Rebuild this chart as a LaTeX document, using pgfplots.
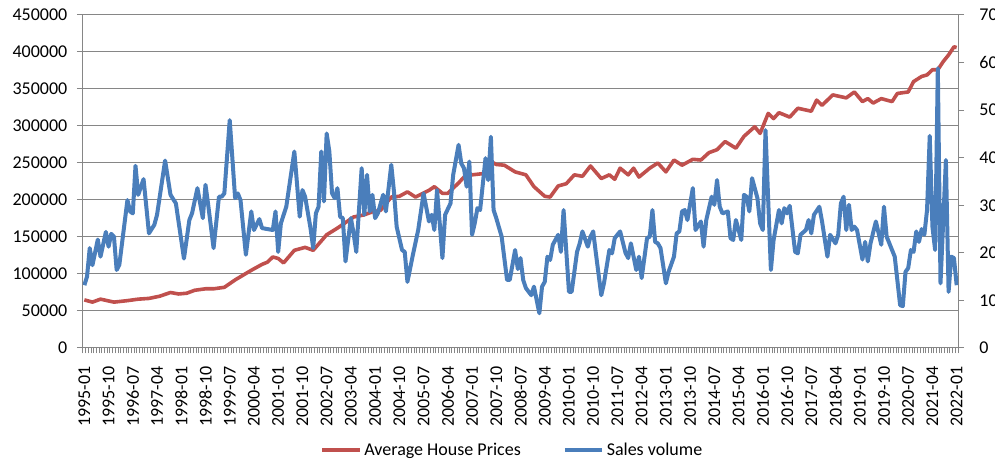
\documentclass[border=0pt]{standalone}
\usepackage{fontspec}
\setmainfont{Carlito}
\usepackage{pgfplots}
\pgfplotsset{compat=1.18}
\usepackage{pgfplotstable}
\definecolor{exred}{RGB}{192,80,77}
\definecolor{exblue}{RGB}{74,126,187}
\definecolor{exgrid}{RGB}{134,134,134}

\pgfplotstableread{
m v
0 65000
3 62000
6 66000
11 62000
16 64000
20 66000
24 67000
28 70000
32 75000
35 73000
38 74000
41 78000
45 80000
48 80000
52 82000
56 92000
62 105000
66 113000
68 116000
70 123000
72 121000
74 115000
78 132000
82 136000
85 132000
90 153000
94 162000
100 177000
104 180000
107 184000
110 186000
114 204000
117 205000
120 211000
123 204000
128 213000
130 218000
133 209000
135 209000
139 223000
141 231000
144 234000
149 236000
151 252000
153 248000
156 247000
160 238000
164 234000
167 218000
171 205000
173 204000
176 219000
179 222000
182 234000
185 232000
188 246000
192 229000
195 234000
197 228000
199 243000
202 234000
204 243000
206 231000
210 243000
213 250000
216 238000
219 254000
222 247000
226 255000
229 254000
232 264000
235 268000
238 279000
242 270000
245 286000
249 299000
251 290000
254 317000
256 310000
258 318000
262 312000
265 324000
270 320000
272 335000
274 328000
278 342000
283 338000
286 346000
289 333000
291 337000
293 331000
296 337000
300 333000
302 344000
306 346000
308 360000
311 367000
313 369000
315 376000
317 376000
319 387000
321 396000
323 407000
324 406000
}\pricedata

\pgfplotstableread{
m v
0 132
1 150
2 210
3 174
5 228
6 192
8 244
9 213
10 240
11 234
12 164
13 175
16 311
17 287
18 283
19 383
20 322
22 355
24 241
26 259
27 280
30 394
32 322
34 304
37 188
39 269
40 283
42 336
44 273
45 343
46 301
48 210
50 318
51 318
52 325
54 479
56 315
57 325
58 311
60 196
62 287
63 248
65 271
66 252
70 248
71 287
72 202
73 262
75 297
78 413
80 276
81 332
82 318
84 252
85 210
86 283
87 297
88 413
89 308
90 451
91 413
92 325
93 315
94 336
95 276
96 273
97 182
99 273
100 241
101 202
103 378
104 280
105 364
106 287
107 322
108 273
109 283
111 322
112 287
114 385
115 329
116 255
118 206
119 202
120 139
122 195
124 248
126 325
128 266
129 280
130 248
131 332
132 262
133 189
134 280
136 304
137 364
139 427
140 388
141 378
142 339
143 392
144 238
145 262
146 294
147 290
149 399
150 353
151 444
152 290
153 273
155 234
157 143
158 143
160 206
161 166
162 189
163 143
164 126
166 111
167 129
169 73
170 129
171 139
172 192
173 185
174 217
176 238
177 202
178 290
180 118
181 118
183 202
184 220
185 245
187 213
188 234
189 245
190 199
192 111
193 136
195 206
196 199
197 231
199 245
201 200
202 189
203 220
205 164
206 192
207 147
209 231
210 234
211 290
212 223
213 220
214 210
216 136
217 160
219 192
220 241
221 245
222 287
223 290
224 269
226 336
227 248
229 266
230 213
231 269
233 318
234 301
235 353
236 297
237 283
239 287
240 231
241 227
242 269
244 227
245 322
246 318
247 287
248 357
250 315
251 262
252 248
253 458
255 164
256 227
258 290
259 262
260 294
261 283
262 299
264 202
265 199
266 238
268 248
269 269
270 241
271 280
273 297
274 266
276 192
277 238
279 220
280 238
281 304
282 318
283 248
284 301
285 248
286 255
287 248
289 186
290 223
291 182
292 220
294 266
296 217
297 297
298 234
300 206
301 192
303 90
304 88
305 160
306 168
307 206
308 202
309 245
310 223
311 250
312 238
313 290
314 446
315 255
316 206
317 588
318 136
320 395
321 118
322 192
323 189
324 132
}\salesdata

\begin{document}
\begin{tikzpicture}
\pgfplotsset{
  base/.style={
    scale only axis, width=656.25pt, height=249.75pt,
    xmin=-0.5, xmax=324.5,
    tick align=outside,
    major tick length=4.5pt,
    minor tick length=4pt,
    ticklabel style={font=\fontsize{13.5}{16}\selectfont, text=black},
    /pgf/number format/assume math mode=true,
    /pgf/number format/fixed,
    /pgf/number format/precision=0,
    /pgf/number format/1000 sep={},
    scaled y ticks=false,
    scaled x ticks=false,
    axis line style={exgrid, line width=0.75pt, -},
    every tick/.style={exgrid, line width=0.75pt},
  }
}
\begin{axis}[base,
  axis x line*=bottom, axis y line*=left,
  ymin=0, ymax=450000, ytick={0,50000,...,450000},
  ymajorgrids, grid style={exgrid, line width=0.75pt},
  yticklabel style={xshift=-3.75pt},
  xtick={0,9,...,324},
  xticklabels={1995-01,1995-10,1996-07,1997-04,1998-01,1998-10,1999-07,2000-04,2001-01,2001-10,2002-07,2003-04,2004-01,2004-10,2005-07,2006-04,2007-01,2007-10,2008-07,2009-04,2010-01,2010-10,2011-07,2012-04,2013-01,2013-10,2014-07,2015-04,2016-01,2016-10,2017-07,2018-04,2019-01,2019-10,2020-07,2021-04,2022-01},
  minor xtick={-0.5,0.5,...,324.5},
  every major x tick/.style={draw=none},
  xticklabel style={rotate=90, anchor=east, xshift=-6pt},
  legend style={at={(0.491,-0.306)}, anchor=center, draw=none, fill=none,
    legend columns=2, font=\fontsize{13.5}{16}\selectfont,
    /tikz/every even column/.append style={column sep=29.5pt}},
  legend image code/.code={\draw[#1, line width=3pt] (0pt,0pt) -- (28pt,0pt);},
]
\addplot[exred, line width=2.7pt, line join=round] table[x=m, y=v] {\pricedata};
\addlegendentry{Average House Prices}
\addlegendimage{exblue, line width=3pt}
\addlegendentry{Sales volume}
\end{axis}
\begin{axis}[base,
  axis x line=none, axis y line*=right,
  ymin=0, ymax=700, ytick={0,100,...,700},
  yticklabel style={xshift=8pt},
]
\addplot[exblue, line width=3pt, line join=round] table[x=m, y=v] {\salesdata};
\end{axis}
\pgfresetboundingbox
\useasboundingbox (-62.25pt,-88.5pt) rectangle (684pt,261pt);
\end{tikzpicture}
\end{document}
